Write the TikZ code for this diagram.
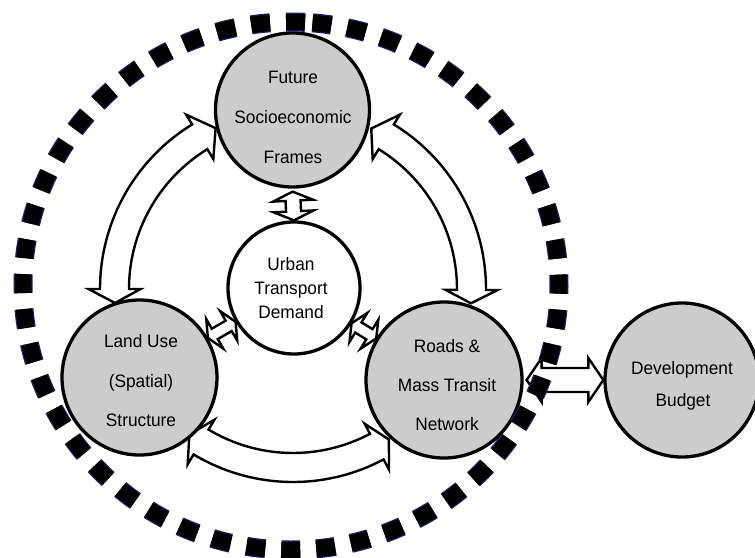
\documentclass[tikz,border=0pt]{standalone}
\usepackage{fontspec}
\setmainfont[FakeStretch=0.96]{Liberation Sans}
\usetikzlibrary{calc}
\definecolor{circgray}{RGB}{204,204,204}
\definecolor{dashnavy}{RGB}{30,30,110}
\tikzset{
  bubble/.style={circle, draw=black, line width=3.3pt, fill=circgray, inner sep=0pt},
  lbl/.style={anchor=base, inner sep=0pt, font=\fontsize{18}{18}\selectfont},
  hollow/.style={draw=black, fill=white, line width=2.4pt, line join=miter},
  dashrim/.style={draw=dashnavy, line width=19pt, dash pattern=on 19pt off 16pt},
  dashcore/.style={draw=black, line width=16.5pt, dash pattern=on 19pt off 16pt},
}
% straight hollow double arrow: from, to, shaft half width, head half width, head length
\newcommand{\hollowarrow}[5]{%
  \coordinate (ha1) at ($(#1)!#5!(#2)$);
  \coordinate (ha2) at ($(#2)!#5!(#1)$);
  \draw[hollow] (#1) -- ($(ha1)!#4!90:(#2)$) -- ($(ha1)!#3!90:(#2)$)
    -- ($(ha2)!#3!-90:(#1)$) -- ($(ha2)!#4!-90:(#1)$) -- (#2)
    -- ($(ha2)!#4!90:(#1)$) -- ($(ha2)!#3!90:(#1)$)
    -- ($(ha1)!#3!-90:(#2)$) -- ($(ha1)!#4!-90:(#2)$) -- cycle;
}
% curved hollow double arrow around the picture centre: shaft from angle #1 to #2, tips at #3 and #4
\newcommand{\hollowarc}[4]{%
  \draw[hollow] (#3:178.5) -- (#1:204.5) -- (#1:193)
    arc[start angle=#1, end angle=#2, radius=193]
    -- (#2:204.5) -- (#4:178.5) -- (#2:152.5) -- (#2:164)
    arc[start angle=#2, end angle=#1, radius=164]
    -- (#1:152.5) -- cycle;
}
\begin{document}
\begin{tikzpicture}[x=1pt, y=-1pt]
\useasboundingbox (0,0) rectangle (755,557);
\coordinate (ctr) at (293,289);
% curved arrows (under the circles)
\begin{scope}[shift={(ctr)}]
  \hollowarc{-180}{-121.5}{-184.5}{-115.7}
  \hollowarc{-58.5}{0.3}{-64}{4.6}
  \hollowarc{62}{121}{57.5}{125.5}
\end{scope}
% circles
\node[bubble, minimum size=154pt] (fut) at (292.5,110) {};
\node[bubble, minimum size=132pt, fill=white] (urb) at (294,288) {};
\node[bubble, minimum size=155pt] (lu) at (139.5,377.5) {};
\node[bubble, minimum size=156pt] (rd) at (444,380) {};
\node[bubble, minimum size=154pt] (dev) at (682,380) {};
% straight double arrows
\coordinate (fa) at ($(fut.south)!3pt!(urb.north)$);
\hollowarrow{fa}{urb.north}{7.5pt}{20pt}{9pt}
\coordinate (lu1) at ($(lu)!79pt!(urb)$);
\coordinate (ur1) at ($(urb)!67.5pt!(lu)$);
\hollowarrow{lu1}{ur1}{6pt}{17pt}{8pt}
\coordinate (rd1) at ($(rd)!79.5pt!(urb)$);
\coordinate (ur2) at ($(urb)!67.5pt!(rd)$);
\hollowarrow{rd1}{ur2}{6pt}{17pt}{8pt}
\coordinate (rd2) at ($(rd.east)+(3,0)$);
\hollowarrow{rd2}{dev.west}{12pt}{22pt}{15pt}
% texts
\node[lbl] (futa) at (293,83) {Future};
\node[lbl] (futb) at (293,123) {Socioeconomic};
\node[lbl] (futc) at (293,163) {Frames};
\node[lbl] (urba) at (291,270) {Urban};
\node[lbl] (urbb) at (291,294) {Transport};
\node[lbl] (urbc) at (291,318) {Demand};
\node[lbl] (lua) at (141,347) {Land Use};
\node[lbl] (lub) at (141,387) {(Spatial)};
\node[lbl] (luc) at (141,426) {Structure};
\node[lbl] (rda) at (447,352) {Roads \&};
\node[lbl] (rdb) at (447,391) {Mass Transit};
\node[lbl] (rdc) at (447,430) {Network};
\node[lbl] (deva) at (682,374) {Development};
\node[lbl] (devb) at (683,406) {Budget};
% dashed boundary
\path[dashrim] (291,286) ++(-85.4:268 and 264) arc[start angle=-85.4, end angle=274.6, x radius=268, y radius=264];
\path[dashcore] (291,286) ++(-85.4:268 and 264) arc[start angle=-85.4, end angle=274.6, x radius=268, y radius=264];
\end{tikzpicture}
\end{document}
